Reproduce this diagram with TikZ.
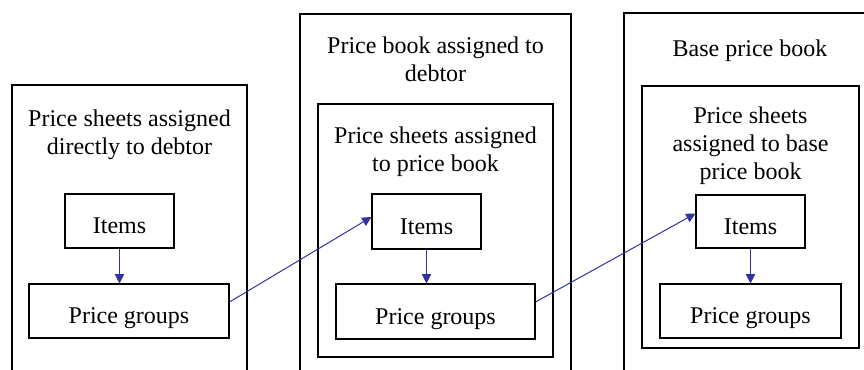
\documentclass[tikz,border=0pt]{standalone}
\usepackage{fontspec}
\setmainfont{Liberation Serif}
\usetikzlibrary{arrows.meta,fit,calc}
\definecolor{arrowblue}{RGB}{51,51,160}
\begin{document}
\begin{tikzpicture}[x=0.75pt,y=-0.75pt,
  frame/.style={draw=black,line width=0.8pt,inner sep=0pt},
  box/.style={draw=black,line width=0.8pt,inner sep=0pt,text height=19pt,text depth=0pt,
    font=\fontsize{18}{21}\selectfont},
  title/.style={inner sep=0pt,align=center,anchor=base,font=\fontsize{18}{21}\selectfont},
  link/.style={draw=arrowblue,line width=0.75pt,-{Triangle[length=7pt,width=7pt]}}]
\useasboundingbox (0,0) rectangle (864,370);
% containers
\node[frame,fit={(12,85) (247,420)}] (outerL) {};
\node[frame,fit={(300,14) (571,420)}] (outerM) {};
\node[frame,fit={(318,104) (553,357)}] (innerM) {};
\node[frame,fit={(624,13) (900,420)}] (outerR) {};
\node[frame,fit={(642,86) (859,348)}] (innerR) {};
% titles (anchor at baseline of last line)
\node[title] (tL) at (129.5,155) {Price sheets assigned\\directly to debtor};
\node[title] (tM) at (435.5,82) {Price book assigned to\\debtor};
\node[title] (tMi) at (435.5,172) {Price sheets assigned\\to price book};
\node[title] (tR) at (750,57) {Base price book};
\node[title] (tRi) at (750.5,180) {Price sheets\\assigned to base\\price book};
% inner boxes
\node[box,minimum width=81.75pt,minimum height=40.5pt] (itemsL) at (119.5,221) {Items};
\node[box,minimum width=150pt,minimum height=40.5pt] (pgL) at (129,311) {Price groups};
\node[box,minimum width=81.75pt,minimum height=41.25pt] (itemsM) at (426.5,221.5) {Items};
\node[box,minimum width=149.25pt,minimum height=41.25pt] (pgM) at (435.5,311.5) {Price groups};
\node[box,minimum width=81.75pt,minimum height=39.75pt] (itemsR) at (750.5,221.5) {Items};
\node[box,minimum width=135.75pt,minimum height=40.5pt] (pgR) at (750.5,311) {Price groups};
% arrows
\draw[link] (itemsL.south) -- (itemsL.south |- pgL.north);
\draw[link] (itemsM.south) -- (itemsM.south |- pgM.north);
\draw[link] (itemsR.south) -- (itemsR.south |- pgR.north);
\draw[link] ($(pgL.east)+(0,-9)$) -- ($(itemsM.west)+(0,-4.5)$);
\draw[link] ($(pgM.east)+(0,-9.5)$) -- ($(itemsR.west)+(0,-8)$);
\end{tikzpicture}
\end{document}
